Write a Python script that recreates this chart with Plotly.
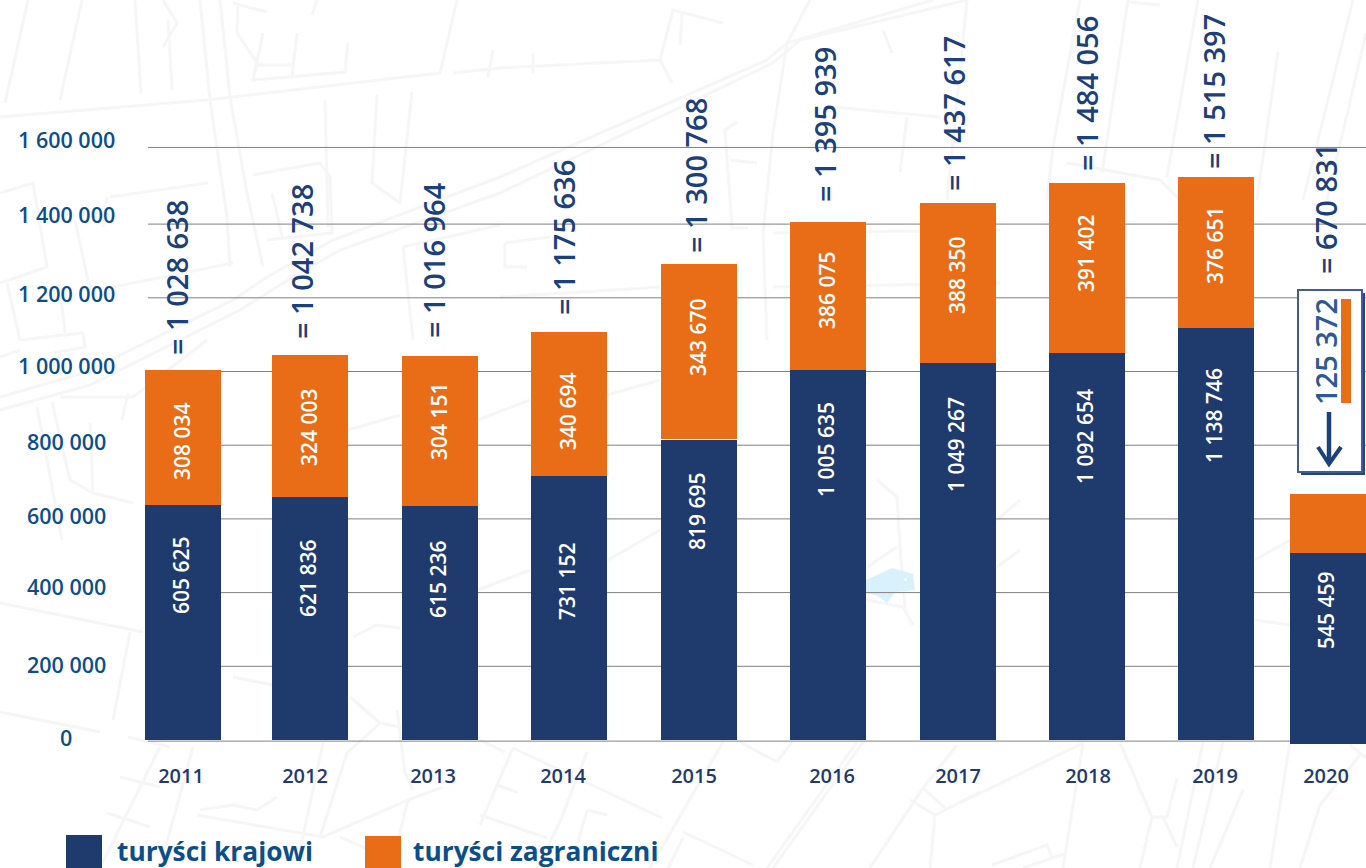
import plotly.graph_objects as go

# ---------- data ----------
years = ["2011", "2012", "2013", "2014", "2015", "2016", "2017", "2018", "2019", "2020"]
# bar heights as drawn in the picture (they differ from the printed labels)
krajowi_drawn = [637700, 659400, 635000, 716400, 814100, 1004100, 1023000, 1050200, 1118000, 518400]
krajowi_base = [0, 0, 0, 0, 0, 0, 0, 0, 0, -10900]
zagraniczni_drawn = [366400, 385400, 407100, 390800, 477600, 401600, 434300, 461300, 409800, 160100]
# printed labels
krajowi_labels = ["605 625", "621 836", "615 236", "731 152", "819 695", "1 005 635", "1 049 267", "1 092 654", "1 138 746", "545 459"]
zagraniczni_labels = ["308 034", "324 003", "304 151", "340 694", "343 670", "386 075", "388 350", "391 402", "376 651"]
total_labels = ["= 1 028 638", "= 1 042 738", "= 1 016 964", "= 1 175 636", "= 1 300 768", "= 1 395 939", "= 1 437 617", "= 1 484 056", "= 1 515 397", "= 670 831"]
y_tick_labels = ["0", "200 000", "400 000", "600 000", "800 000", "1 000 000", "1 200 000", "1 400 000", "1 600 000"]
grid_levels = [-3000, 200000, 400000, 600000, 800000, 1000000, 1200000, 1400000, 1608000]
series_names = ["turyści krajowi", "turyści zagraniczni"]
callout_label = "125 372"

# ---------- layout in page pixels ----------
W, H = 1366, 868
AX_B = 740
PLOT_B = 744
PER_PX = 200000 / 73.7
bar_cx = [183, 310, 440, 569, 699, 828, 958, 1087, 1216, 1328]
year_cx = [181, 305, 433, 563, 694, 832, 958, 1088, 1215, 1326]
kraj_label_py = [575, 578, 579, 581, 511, 450, 445, 437, 416, 610]
zag_label_py = [441, 427, 421, 411, 337, 290, 275, 253, 245]
total_cx = [176, 301, 433, 563, 695, 824, 953, 1086, 1213, 1325]
total_py = [278, 262, 260, 238, 176, 125, 114, 94, 92, 209]
ytick_py = [737, 664, 586, 515, 441, 365, 293, 214, 139]

NAVY = "#1f3b6e"
ORANGE = "#e96c17"
BLUE_TXT = "#0c4f88"
TOT_TXT = "#1c4079"
FONT = "Open Sans"


def vy(y):
    return (AX_B - y) * PER_PX


def px(x):
    return x / W


def py(y):
    return (PLOT_B - y) / PLOT_B


def path(pts):
    return "M " + " L ".join(f"{px(a):.5f},{py(b):.5f}" for a, b in pts)


fig = go.Figure()
fig.add_bar(x=bar_cx, y=krajowi_drawn, base=krajowi_base, width=76, name=series_names[0],
            marker=dict(color=NAVY, line_width=0), showlegend=False)
zag_base = [a + b for a, b in zip(krajowi_drawn, krajowi_base)]
fig.add_bar(x=bar_cx, y=zagraniczni_drawn, base=zag_base, width=76, name=series_names[1],
            marker=dict(color=ORANGE, line_width=0), showlegend=False)

ann = []


def rot(x, y, text, size, color, weight=600):
    ann.append(dict(x=x, y=vy(y), xref="x", yref="y", text=text, textangle=-90, showarrow=False,
                    xanchor="center", yanchor="middle",
                    font=dict(family=FONT, size=size, color=color, weight=weight)))


for x, y, t in zip(bar_cx, kraj_label_py, krajowi_labels):
    rot(x - 2, y, t, 21, "white")
for x, y, t in zip(bar_cx, zag_label_py, zagraniczni_labels):
    rot(x - 1, y, t, 21, "white")
for x, y, t in zip(total_cx, total_py, total_labels):
    rot(x, y, t, 29, TOT_TXT)
rot(1325, 352, callout_label, 29, "#2c5a92")

for y, t in zip(ytick_py, y_tick_labels):
    ann.append(dict(x=66, y=vy(y), xref="x", yref="y", text=t, showarrow=False, xanchor="center",
                    yanchor="middle", font=dict(family=FONT, size=21.5, color=BLUE_TXT, weight=600)))

for x, t in zip([115, 411], series_names):
    ann.append(dict(x=px(x), y=py(851), xref="paper", yref="paper", text=t, showarrow=False, xanchor="left",
                    yanchor="middle", font=dict(family=FONT, size=26.3, color=BLUE_TXT, weight=700)))

# faint street-map backdrop, page pixels
streets = [
    [(28, 0), (5, 103)], [(82, 0), (60, 100)], [(135, 0), (141, 93)], [(163, 0), (177, 23), (163, 47)],
    [(168, 20), (172, 90)], [(200, 0), (210, 100), (227, 217), (230, 267)],
    [(220, 0), (230, 97), (247, 193), (263, 267)], [(0, 117), (207, 100), (440, 73), (457, 0)],
    [(453, 73), (500, 68), (660, 60), (673, 10), (723, 23)], [(233, 3), (267, 12)],
    [(238, 7), (237, 33), (257, 63), (253, 80), (345, 72), (348, 43)], [(263, 33), (253, 80)],
    [(258, 65), (292, 65)], [(297, 33), (292, 77)], [(325, 100), (328, 227)],
    [(377, 95), (372, 183), (400, 203), (412, 92)], [(493, 50), (488, 77)], [(317, 0), (312, 15)],
    [(0, 193), (33, 183), (47, 267), (0, 283)], [(7, 283), (20, 340)], [(110, 197), (208, 183)],
    [(107, 197), (103, 227)], [(75, 220), (90, 290)], [(113, 287), (233, 263)],
    [(0, 397), (83, 373), (233, 300), (267, 277), (333, 240), (500, 177), (767, 60), (787, 43), (933, 0)],
    [(0, 410), (90, 385), (240, 310), (280, 285), (340, 250), (500, 193), (773, 63), (800, 40), (967, 0)],
    [(253, 175), (320, 163), (330, 177), (332, 233), (267, 240)], [(272, 193), (283, 240)],
    [(403, 247), (413, 340)], [(403, 247), (500, 225)],
    [(660, 60), (672, 83)], [(682, 13), (680, 45)], [(533, 53), (533, 73)],
    [(810, 0), (787, 43), (773, 133), (763, 233), (767, 340)], [(833, 107), (940, 117)], [(907, 117), (900, 172)],
    [(737, 122), (725, 130), (732, 228), (748, 228)], [(730, 160), (757, 163)], [(883, 30), (892, 53)],
    [(967, 0), (947, 200)], [(505, 243), (505, 267), (527, 267)], [(505, 243), (550, 237)],
    [(500, 297), (660, 287)], [(773, 233), (1000, 230)], [(773, 287), (1000, 283)],
    [(1080, 0), (1053, 147), (1047, 200)], [(1128, 0), (1102, 173)], [(1128, 2), (1160, 5)],
    [(1198, 0), (1167, 177)], [(1067, 163), (1160, 180), (1180, 200)], [(1278, 52), (1257, 200)],
    [(1353, 0), (1303, 200)], [(1366, 33), (1327, 200)],
    [(60, 397), (133, 397), (207, 340)], [(37, 407), (62, 540)], [(52, 402), (70, 480), (93, 493), (133, 503)],
    [(90, 423), (93, 493)], [(128, 393), (122, 420)], [(20, 340), (83, 333), (85, 347), (53, 353)],
    [(65, 333), (60, 287)], [(0, 357), (20, 350)],
    [(0, 603), (143, 632)], [(0, 712), (100, 732)], [(130, 632), (113, 720)], [(128, 737), (170, 747)],
    [(160, 747), (100, 868)], [(193, 747), (160, 868)], [(120, 777), (160, 787)], [(107, 813), (150, 827)],
    [(233, 677), (273, 685)], [(380, 723), (347, 753), (320, 837)], [(323, 743), (300, 850)],
    [(197, 815), (323, 837), (408, 800), (443, 787)], [(200, 810), (233, 805), (257, 810), (277, 797)],
    [(340, 837), (377, 853)], [(408, 800), (397, 843)], [(353, 637), (377, 625), (400, 628)],
    [(397, 710), (405, 773), (413, 790)], [(350, 697), (380, 723), (400, 727)],
    [(480, 740), (505, 752)], [(513, 748), (480, 825)], [(513, 748), (662, 818)],
    [(587, 752), (560, 822), (537, 868)], [(480, 815), (547, 838)], [(497, 785), (517, 792)],
    [(587, 810), (607, 815)], [(587, 810), (575, 852)], [(723, 742), (650, 868)], [(683, 832), (753, 865)],
    [(683, 838), (668, 868)], [(740, 742), (777, 762)], [(792, 742), (777, 762)],
    [(857, 742), (767, 868)], [(863, 742), (773, 868)], [(957, 745), (923, 788), (870, 868)],
    [(910, 800), (935, 815), (980, 792)], [(935, 815), (930, 868)], [(923, 788), (945, 808)],
    [(960, 803), (1083, 743)], [(1083, 743), (1063, 868)], [(992, 865), (1047, 845), (1052, 858)],
    [(1067, 853), (1023, 868)], [(1120, 743), (1152, 817), (1140, 868)], [(1152, 817), (1167, 817), (1177, 778)],
    [(1163, 817), (1177, 847)], [(1203, 742), (1177, 868)], [(1223, 742), (1193, 868)], [(1243, 790), (1210, 868)],
    [(1290, 742), (1270, 868)], [(1320, 805), (1300, 868)], [(1320, 805), (1360, 755)], [(1350, 745), (1366, 758)],
    [(877, 480), (897, 497), (900, 547), (905, 607)], [(867, 567), (897, 547)], [(867, 600), (903, 607)],
    [(903, 607), (913, 625)], [(997, 520), (1020, 500)], [(997, 567), (1020, 550)],
    [(348, 430), (400, 415)], [(478, 420), (530, 400)], [(607, 395), (660, 380)], [(608, 560), (660, 530)],
    [(478, 590), (530, 570)], [(1255, 560), (1290, 540)], [(1255, 620), (1290, 625)],
]
shapes = [dict(type="path", path=path(s), xref="paper", yref="paper", layer="below",
               line=dict(color="#f6f6f7", width=3), fillcolor="rgba(0,0,0,0)") for s in streets]
# small blue bison in the backdrop
shapes.append(dict(type="path", xref="paper", yref="paper", layer="below", line_width=0, fillcolor="#d9f1fd",
                   path=path([(866, 580), (892, 568), (913, 574), (915, 590), (895, 592), (887, 603),
                              (878, 596), (866, 593)]) + " Z"))
shapes.append(dict(type="circle", xref="paper", yref="paper", layer="below", line_width=0, fillcolor="white",
                   x0=px(904), x1=px(907), y0=py(578), y1=py(581)))
# gridlines
for g in grid_levels:
    shapes.append(dict(type="line", xref="paper", yref="y", x0=px(148), x1=1, y0=g, y1=g, layer="below",
                       line=dict(color="#808080", width=1)))
above = dict(xref="paper", yref="paper", layer="above")
# hairline seam in the 2015 bar
shapes.append(dict(type="path", path=path([(661, 439.5), (737, 439.5)]), line=dict(color="white", width=1),
                   fillcolor="rgba(0,0,0,0)", **above))
# callout
shapes.append(dict(type="path", path=path([(1301, 293), (1365, 293), (1365, 475), (1301, 475)]) + " Z",
                   fillcolor="#27457c", line_width=0, **above))
shapes.append(dict(type="path", path=path([(1298, 290), (1362, 290), (1362, 472), (1298, 472)]) + " Z",
                   fillcolor="white", line=dict(color="#3e5f91", width=2), **above))
shapes.append(dict(type="path", path=path([(1341, 299), (1351, 299), (1351, 403), (1341, 403)]) + " Z",
                   fillcolor=ORANGE, line_width=0, **above))
shapes.append(dict(type="path", path=path([(1329, 412), (1329, 463)]), line=dict(color="#1c4079", width=4.5),
                   fillcolor="rgba(0,0,0,0)", **above))
shapes.append(dict(type="path", path=path([(1318, 447), (1329, 464), (1341, 447)]),
                   line=dict(color="#1c4079", width=4), fillcolor="rgba(0,0,0,0)", **above))
# legend swatches
shapes.append(dict(type="path", path=path([(66, 835), (102, 835), (102, 868), (66, 868)]) + " Z",
                   fillcolor=NAVY, line_width=0, **above))
shapes.append(dict(type="path", path=path([(365, 836), (401, 836), (401, 868), (365, 868)]) + " Z",
                   fillcolor=ORANGE, line_width=0, **above))

fig.update_layout(
    width=W, height=H, margin=dict(l=0, r=0, t=0, b=H - PLOT_B, pad=0),
    paper_bgcolor="white", plot_bgcolor="rgba(0,0,0,0)", barmode="overlay", showlegend=False,
    annotations=ann, shapes=shapes,
    xaxis=dict(range=[0, W], tickmode="array", tickvals=year_cx, ticktext=years, showgrid=False,
               zeroline=False, showline=False, ticks="outside", ticklen=14, tickcolor="rgba(0,0,0,0)",
               tickfont=dict(family=FONT, size=20, color=NAVY, weight=600)),
    yaxis=dict(range=[vy(PLOT_B), vy(0)], showticklabels=False, showgrid=False, zeroline=False,
               showline=False, ticks=""),
)
fig.write_html("out.html", config=dict(displayModeBar=False), post_script="document.body.style.margin='0';")
